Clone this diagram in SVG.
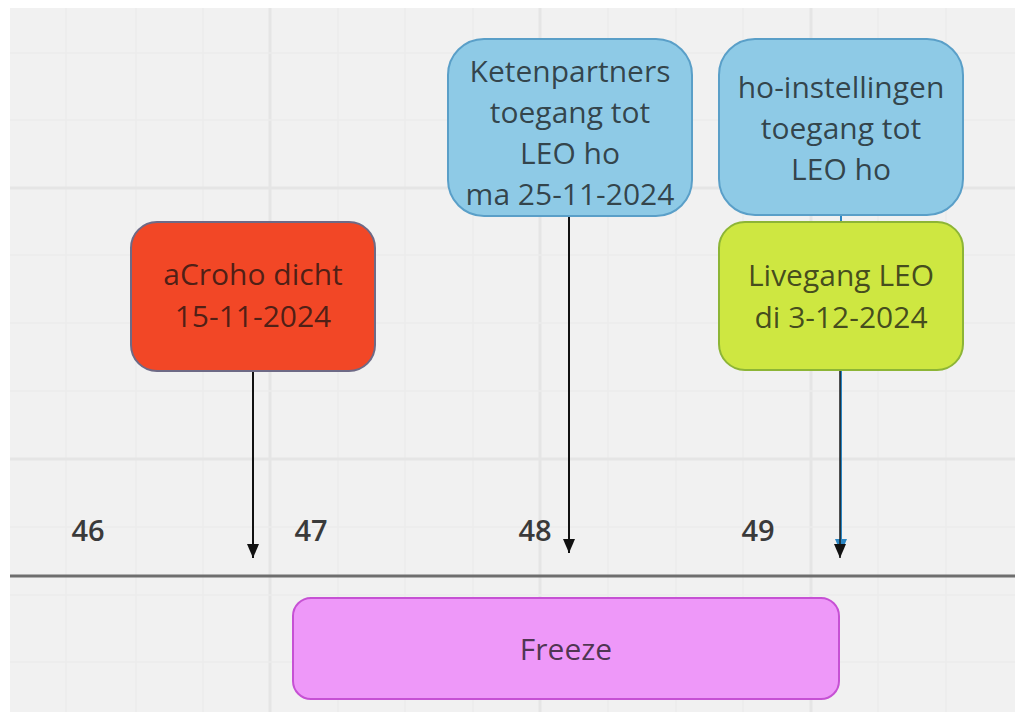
<svg xmlns="http://www.w3.org/2000/svg" width="1015" height="712" viewBox="0 0 1015 712">
<defs>
<style>
.grid-minor{stroke:#ebebeb;stroke-width:1.5}
.grid-major{stroke:#e5e5e5;stroke-width:3}
.t{font-family:"Open Sans","Noto Sans","Liberation Sans",sans-serif;font-size:30px;text-anchor:middle;fill:#111;fill-opacity:0.74}
.wk{font-family:"Open Sans","Noto Sans","Liberation Sans",sans-serif;font-size:29px;font-weight:600;fill:#3a3a3a}
.conn{fill:none;stroke-width:2}
</style>
<marker id="ah" viewBox="0 0 14 12" refX="14" refY="6" markerWidth="14" markerHeight="12" markerUnits="userSpaceOnUse" orient="auto">
<path d="M0,0 L14,6 L0,12 Z" fill="#111"/>
</marker>
<marker id="ahb" viewBox="0 0 14 12" refX="14" refY="6" markerWidth="14" markerHeight="12" markerUnits="userSpaceOnUse" orient="auto">
<path d="M0,0 L14,6 L0,12 Z" fill="#2a86c4"/>
</marker>
</defs>
<rect x="0" y="0" width="1015" height="712" fill="#ffffff"/>
<rect x="10" y="8" width="1005" height="704" fill="#f1f1f1"/>
<g id="grid">
<line class="grid-minor" x1="66" y1="8" x2="66" y2="712"/>
<line class="grid-minor" x1="136" y1="8" x2="136" y2="712"/>
<line class="grid-minor" x1="203" y1="8" x2="203" y2="712"/>
<line class="grid-major" x1="270" y1="8" x2="270" y2="712"/>
<line class="grid-minor" x1="338" y1="8" x2="338" y2="712"/>
<line class="grid-minor" x1="405" y1="8" x2="405" y2="712"/>
<line class="grid-minor" x1="473" y1="8" x2="473" y2="712"/>
<line class="grid-major" x1="540" y1="8" x2="540" y2="712"/>
<line class="grid-minor" x1="608" y1="8" x2="608" y2="712"/>
<line class="grid-minor" x1="676" y1="8" x2="676" y2="712"/>
<line class="grid-minor" x1="743" y1="8" x2="743" y2="712"/>
<line class="grid-major" x1="811" y1="8" x2="811" y2="712"/>
<line class="grid-minor" x1="878" y1="8" x2="878" y2="712"/>
<line class="grid-minor" x1="946" y1="8" x2="946" y2="712"/>
<line class="grid-minor" x1="10" y1="53" x2="1015" y2="53"/>
<line class="grid-minor" x1="10" y1="120" x2="1015" y2="120"/>
<line class="grid-major" x1="10" y1="188" x2="1015" y2="188"/>
<line class="grid-minor" x1="10" y1="255" x2="1015" y2="255"/>
<line class="grid-minor" x1="10" y1="323" x2="1015" y2="323"/>
<line class="grid-minor" x1="10" y1="391" x2="1015" y2="391"/>
<line class="grid-major" x1="10" y1="459" x2="1015" y2="459"/>
<line class="grid-minor" x1="10" y1="527" x2="1015" y2="527"/>
<line class="grid-minor" x1="10" y1="595" x2="1015" y2="595"/>
<line class="grid-minor" x1="10" y1="662" x2="1015" y2="662"/>
</g>
<g id="axis">
<line x1="10" y1="576" x2="1015" y2="576" stroke="#6e6e6e" stroke-width="3"/>
<text class="wk" x="88" y="541" text-anchor="middle">46</text>
<text class="wk" x="311" y="541" text-anchor="middle">47</text>
<text class="wk" x="535" y="541" text-anchor="middle">48</text>
<text class="wk" x="758" y="541" text-anchor="middle">49</text>
</g>
<g id="connectors">
<line class="conn" x1="253" y1="372" x2="253" y2="558" stroke="#111" marker-end="url(#ah)"/>
<line class="conn" x1="569" y1="216" x2="569" y2="553" stroke="#111" marker-end="url(#ah)"/>
<line class="conn" x1="841" y1="215" x2="841" y2="553" stroke="#2a86c4" marker-end="url(#ahb)"/>
<line class="conn" x1="840" y1="370" x2="840" y2="558" stroke="#1a1a1a" stroke-opacity="0.75" marker-end="url(#ah)"/>
</g>
<g id="node-acroho">
<rect x="131" y="222" width="244" height="149" rx="26" fill="#f24726" stroke="#6e6a86" stroke-width="2"/>
<text class="t" x="253" y="285">aCroho dicht</text>
<text class="t" x="253" y="327">15-11-2024</text>
</g>
<g id="node-ketenpartners">
<rect x="448" y="39" width="244" height="177" rx="36" fill="#8ecae6" stroke="#5a9fc8" stroke-width="2"/>
<text class="t" x="570" y="82">Ketenpartners</text>
<text class="t" x="570" y="123">toegang tot</text>
<text class="t" x="570" y="164">LEO ho</text>
<text class="t" x="570" y="205">ma 25-11-2024</text>
</g>
<g id="node-ho-instellingen">
<rect x="719" y="39" width="244" height="176" rx="36" fill="#8ecae6" stroke="#5a9fc8" stroke-width="2"/>
<text class="t" x="841" y="98">ho-instellingen</text>
<text class="t" x="841" y="139">toegang tot</text>
<text class="t" x="841" y="180">LEO ho</text>
</g>
<g id="node-livegang">
<rect x="719" y="222" width="244" height="148" rx="26" fill="#cee741" stroke="#8db536" stroke-width="2"/>
<text class="t" x="841" y="286">Livegang LEO</text>
<text class="t" x="841" y="328">di 3-12-2024</text>
</g>
<g id="node-freeze">
<rect x="293" y="598" width="546" height="101" rx="18" fill="#ee98f9" stroke="#c651d4" stroke-width="2"/>
<text class="t" x="566" y="660">Freeze</text>
</g>
</svg>
